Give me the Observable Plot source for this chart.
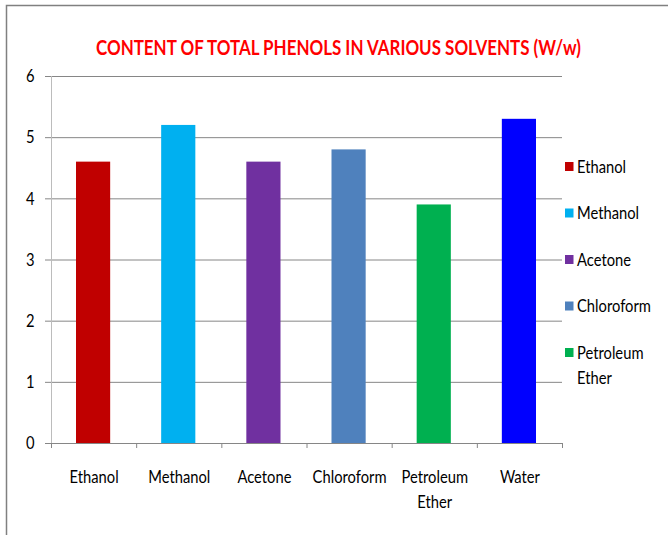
<!DOCTYPE html>
<html><head><meta charset="utf-8">
<script src="https://cdn.jsdelivr.net/npm/d3@7"></script>
<script src="https://cdn.jsdelivr.net/npm/@observablehq/plot@0.6"></script>
<style>body{margin:0;background:#fff;overflow:hidden}</style>
</head><body><div id="chart"></div>
<script>
const title = "CONTENT OF TOTAL PHENOLS IN VARIOUS SOLVENTS (W/w)";
const solvents = ["Ethanol", "Methanol", "Acetone", "Chloroform", "Petroleum Ether", "Water"];
const tickLabels = ["Ethanol", "Methanol", "Acetone", "Chloroform", "Petroleum\nEther", "Water"];
const values = [4.6, 5.2, 4.6, 4.8, 3.9, 5.3];
const colors = ["#C00000", "#00B0F0", "#7030A0", "#4F81BD", "#00B050", "#0000FF"];
const legendItems = ["Ethanol", "Methanol", "Acetone", "Chloroform", "Petroleum\nEther"];
const yTicks = [0, 1, 2, 3, 4, 5, 6];
const xBoundaries = [0, 1, 2, 3, 4, 5, 6];

const font = "Lato, 'Open Sans', sans-serif";
const squeeze = 0.82;
const data = solvents.map((s, i) => ({solvent: s, i, value: values[i], label: tickLabels[i]}));

const plot = Plot.plot({
  width: 668, height: 535,
  marginLeft: 51, marginRight: 106, marginTop: 76, marginBottom: 92,
  style: {fontFamily: font, fontSize: "18px", color: "#000", background: "#fff", overflow: "visible"},
  x: {domain: [0, 6], axis: null},
  y: {domain: [0, 6], axis: null},
  color: {domain: solvents, range: colors},
  marks: [
    Plot.ruleY(yTicks, {stroke: "#868686", strokeWidth: 1}),
    Plot.ruleX([0], {stroke: "#bcbcbc", insetBottom: -5}),
    Plot.axisY({ticks: yTicks, tickSize: 6, tickPadding: 11, tickFormat: d => String(d), label: null, stroke: "#868686", fontSize: 18, fill: "#000"}),
    Plot.axisX({ticks: xBoundaries, tickSize: 5, tickFormat: () => "", label: null, stroke: "#868686"}),
    Plot.rectY(data, {x1: "i", x2: d => d.i + 1, y: "value", fill: "solvent", insetLeft: 25, insetRight: 26}),
    Plot.text(data, {x: d => d.i + 0.5, y: 0, text: "label", lineAnchor: "top", dy: 22, lineHeight: 1.37, fontSize: 18, fill: "#000"})
  ]
});

document.getElementById("chart").appendChild(plot);
const svg = d3.select(plot);

// condense Plot's text horizontally (Calibri-like narrow look)
svg.selectAll("text").each(function() {
  const t = this.getAttribute("transform");
  if (t) this.setAttribute("transform", t + ` scale(${squeeze},1)`);
});

// border
svg.append("path").attr("d", "M6.5,535 L6.5,5.5 L668,5.5").attr("fill", "none").attr("stroke", "#808080").attr("stroke-width", 1.5);

// title
svg.append("text").attr("x", 338.5).attr("y", 55).attr("text-anchor", "middle")
  .attr("fill", "#FF0000").attr("font-family", font).attr("font-size", 20).attr("font-weight", "bold")
  .attr("textLength", 485).attr("lengthAdjust", "spacingAndGlyphs")
  .text(title);

// legend
const legendY = [166.5, 213, 259.5, 306, 352.5];
const lg = svg.append("g").attr("font-family", font).attr("font-size", 18).attr("text-anchor", "start");
legendItems.forEach((name, k) => {
  lg.append("rect").attr("x", 565).attr("y", legendY[k] - 4.5).attr("width", 8.5).attr("height", 9).attr("fill", colors[k]);
  const t = lg.append("text").attr("transform", `translate(577,${legendY[k]}) scale(${squeeze},1)`).attr("fill", "#000");
  name.split("\n").forEach((line, j) => {
    t.append("tspan").attr("x", 0).attr("dy", j === 0 ? "0.35em" : "25px").text(line);
  });
});
</script>
</body></html>
